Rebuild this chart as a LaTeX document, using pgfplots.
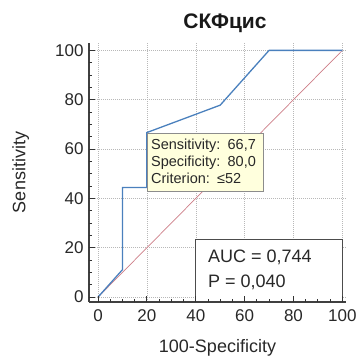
\documentclass[border=0pt]{standalone}
\usepackage{fontspec}
\setmainfont{Liberation Sans}
\usepackage{pgfplots}
\pgfplotsset{compat=1.18}
\definecolor{roc}{RGB}{74,128,189}
\definecolor{diag}{RGB}{205,125,135}
\definecolor{txt}{RGB}{40,40,40}
\definecolor{tipfill}{RGB}{255,255,221}
\begin{document}
\begin{tikzpicture}
\begin{axis}[
 scale only axis, width=257pt, height=259pt,
 xmin=-3.7, xmax=101.5, ymin=-2, ymax=103,
 axis x line*=bottom, axis y line*=left,
 axis line style={line width=1.3pt, color=black!75},
 xtick={0,20,...,100}, ytick={0,20,...,100},
 major tick length=0pt,
 grid=major, grid style={dash pattern=on 1pt off 1pt, color=black!28, line width=0.5pt},
 ticklabel style={font=\fontsize{17}{17}\selectfont, color=txt},
 xticklabel style={yshift=-4pt},
 yticklabel style={xshift=-2pt},
 /pgf/number format/assume math mode=true,
 xlabel={100-Specificity}, ylabel={Sensitivity},
 label style={font=\fontsize{18}{18}\selectfont, color=txt},
 xlabel style={yshift=-11pt},
 ylabel style={yshift=19pt},
 clip=false,
]
\coordinate (ll) at (rel axis cs:0,0);
\addplot[diag, line width=0.7pt] coordinates {(0,0) (100,100)};
\addplot[roc, line width=1.3pt] coordinates {(0,0) (10,11.1) (10,44.4) (20,44.4) (20,66.7) (50,77.8) (70,100) (100,100)};
\node[draw=black!45, fill=tipfill, anchor=north west, inner xsep=4pt, inner ysep=0pt,
      minimum width=116pt, minimum height=58pt, text width=108pt, align=left,
      font=\fontsize{14.5}{17}\selectfont, text=txt]
  at (axis cs:20,66.7) {Sensitivity: 66,7\\Specificity: 80,0\\Criterion: ≤52};
\draw[black!70, line width=1pt, fill=white] (axis cs:40,-2) rectangle (axis cs:100,23.5);
\node[anchor=west, align=left, font=\fontsize{18}{24.3}\selectfont, text=txt, inner sep=0pt]
  at (axis cs:45,11) {AUC = 0,744\\P = 0,040};
\draw[black!75, line width=1.3pt] (axis cs:-3.7,-2) -- (axis cs:101.5,-2);
\pgfplotsinvokeforeach{0,5,...,100}{
  \draw[black!80, line width=0.9pt] (axis cs:#1,-2) -- ++(0pt,3.5pt);
  \draw[black!80, line width=0.9pt] (axis cs:-3.7,#1) -- ++(3.5pt,0pt);
}
\pgfplotsinvokeforeach{0,20,...,100}{
  \draw[black!80, line width=0.9pt] (axis cs:#1,-2) -- ++(0pt,6pt);
  \draw[black!80, line width=0.9pt] (axis cs:-3.7,#1) -- ++(6pt,0pt);
}
\end{axis}
\node[font=\bfseries\fontsize{21}{21}\selectfont, text=black!90] at ([shift={(136pt,279pt)}]ll) {СКФцис};
\pgfresetboundingbox
\path[use as bounding box] (ll) ++(-89pt,-54pt) rectangle ++(356pt,356pt);
\end{tikzpicture}
\end{document}
